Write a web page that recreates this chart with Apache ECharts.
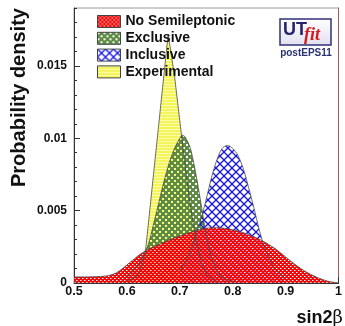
<!DOCTYPE html>
<html><head><meta charset="utf-8">
<script src="https://cdn.jsdelivr.net/npm/echarts@6/dist/echarts.min.js"></script>
<style>html,body{margin:0;padding:0;background:#fff}#c{width:345px;height:326px}</style>
</head><body><div id="c"></div>
<script>
// ---- data ----
const legendNames = ['No Semileptonic', 'Exclusive', 'Inclusive', 'Experimental'];
const xTicks = ['0.5', '0.6', '0.7', '0.8', '0.9', '1'];
const yTicks = ['0', '0.005', '0.01', '0.015'];

const redX = [0.50,0.52,0.54,0.56,0.57,0.58,0.59,0.60,0.61,0.62,0.63,0.64,0.65,0.66,0.67,0.68,0.69,0.70,0.72,0.74,0.76,0.78,0.80,0.82,0.84,0.86,0.88,0.90,0.92,0.94,0.96,0.98,1.00];
const redY = [0.00042,0.00042,0.00043,0.00048,0.00056,0.00070,0.00095,0.00125,0.00155,0.00185,0.00210,0.00232,0.00250,0.00266,0.00282,0.00297,0.00312,0.00325,0.00350,0.00372,0.00382,0.00380,0.00368,0.00348,0.00320,0.00284,0.00238,0.00180,0.00122,0.00074,0.00038,0.00012,0.00000];

const greenX = [0.60,0.62,0.63,0.64,0.65,0.66,0.67,0.68,0.69,0.70,0.705,0.71,0.72,0.73,0.74,0.75,0.76,0.77,0.78,0.80];
const greenY = [0.0004,0.0012,0.0018,0.0026,0.0040,0.0055,0.0070,0.0083,0.0093,0.0100,0.0102,0.0101,0.0093,0.0076,0.0055,0.0033,0.0018,0.0009,0.0004,0.0001];

const blueX = [0.70,0.72,0.73,0.74,0.75,0.76,0.77,0.78,0.79,0.80,0.81,0.82,0.83,0.84,0.85,0.86,0.88,0.90];
const blueY = [0.0008,0.0022,0.0033,0.0044,0.0058,0.0073,0.0085,0.0093,0.0095,0.0093,0.0088,0.0079,0.0066,0.0052,0.0037,0.0025,0.0010,0.0003];

const yellowX = [0.60,0.62,0.63,0.636,0.64,0.65,0.66,0.67,0.678,0.69,0.70,0.71,0.72,0.73,0.74,0.75,0.77];
const yellowY = [0.0001,0.0005,0.0014,0.0025,0.0039,0.0074,0.0109,0.0144,0.0172,0.0143,0.0112,0.0081,0.0053,0.0031,0.0015,0.0006,0.0000];

// ---- patterns ----
function tile(w, h, draw) {
  const c = document.createElement('canvas'); c.width = w; c.height = h;
  const g = c.getContext('2d'); draw(g);
  return { image: c, repeat: 'repeat' };
}
const redPat = tile(4, 4, g => { g.fillStyle = '#f20a0a'; g.fillRect(0,0,4,4); g.clearRect(0,0,1,1); g.clearRect(2,2,1,1);
  g.fillStyle = 'rgba(255,255,255,0.45)'; g.fillRect(0,0,1,1); g.fillRect(2,2,1,1);
  g.fillStyle = 'rgba(255,120,120,1)'; g.fillRect(1,0,1,1); g.fillRect(3,2,1,1); });
const greenPat = tile(6, 6, g => { g.fillStyle = '#5e8c44'; g.fillRect(0,0,6,6); g.clearRect(0,0,2,2); g.clearRect(3,3,2,2); });
const bluePat = tile(8, 8, g => { g.strokeStyle = '#1414e6'; g.lineWidth = 1.3;
  g.beginPath(); g.moveTo(-1,-1); g.lineTo(9,9); g.moveTo(9,-1); g.lineTo(-1,9); g.stroke(); });
const yellowPat = tile(2, 3, g => { g.fillStyle = '#f4f45c'; g.fillRect(0,0,2,3); g.fillStyle = '#fbfba8'; g.fillRect(0,0,2,1); });

const pats = { 'No Semileptonic': redPat, 'Exclusive': greenPat, 'Inclusive': bluePat, 'Experimental': yellowPat };
const seriesDefs = [
  { name: 'Experimental', x: yellowX, y: yellowY, smooth: false },
  { name: 'Exclusive', x: greenX, y: greenY, smooth: 0.3 },
  { name: 'Inclusive', x: blueX, y: blueY, smooth: 0.3 },
  { name: 'No Semileptonic', x: redX, y: redY, smooth: 0.3 }
];

const FONT = 'Liberation Sans, Arial, Helvetica, sans-serif';
function labelFrom(list) {
  return v => { const t = list.find(s => Math.abs(parseFloat(s) - v) < 1e-9); return t === undefined ? '' : t; };
}

const chart = echarts.init(document.getElementById('c'), null, { renderer: 'canvas' });
chart.setOption({
  animation: false,
  backgroundColor: '#fff',
  grid: { left: 74, right: 2, top: 8, bottom: 43, show: true, borderColor: '#9a9a9a', borderWidth: 1 },
  xAxis: {
    type: 'value', min: 0.5, max: 1.0, interval: 0.1,
    axisLine: { show: true, lineStyle: { color: '#333', width: 1 } },
    axisTick: { show: true, inside: true, length: 6, lineStyle: { color: '#333' } },
    splitLine: { show: false },
    axisLabel: { formatter: labelFrom(xTicks), margin: 2, fontFamily: FONT, fontWeight: 'bold', fontSize: 12.5, color: '#111', showMaxLabel: true }
  },
  yAxis: [
    {
      type: 'value', position: 'left', min: 0, max: 0.019, interval: 0.005,
      axisLine: { show: true, lineStyle: { color: '#333', width: 1 } },
      axisTick: { show: true, inside: true, length: 6, lineStyle: { color: '#333' } },
      splitLine: { show: false },
      axisLabel: { formatter: labelFrom(yTicks), margin: 7, fontFamily: FONT, fontWeight: 'bold', fontSize: 12, color: '#111', showMaxLabel: false }
    },
    {
      type: 'value', position: 'left', min: 0, max: 0.019, interval: 0.001,
      axisLine: { show: false },
      axisTick: { show: true, inside: true, length: 3, lineStyle: { color: '#333' } },
      splitLine: { show: false },
      axisLabel: { show: false }
    },
    {
      type: 'value', position: 'right', min: 0, max: 0.019,
      axisLine: { show: true, lineStyle: { color: '#a05a5a', width: 1 } },
      axisTick: { show: false }, splitLine: { show: false }, axisLabel: { show: false }
    }
  ],
  legend: {
    orient: 'vertical', left: 97, top: 14.5, padding: 0,
    itemWidth: 23, itemHeight: 12, itemGap: 2.8, icon: 'rect',
    selectedMode: false,
    textStyle: { fontFamily: FONT, fontWeight: 'bold', fontSize: 14, color: '#111', lineHeight: 14 },
    data: legendNames.map(n => ({ name: n, itemStyle: { color: pats[n], borderColor: '#444', borderWidth: 1 } }))
  },
  series: seriesDefs.map(d => ({
    name: d.name, type: 'line', xAxisIndex: 0, yAxisIndex: 0,
    data: d.x.map((x, i) => [x, d.y[i]]),
    smooth: d.smooth, symbol: 'none',
    lineStyle: { color: '#4a4a4a', width: 0.8 },
    itemStyle: { color: '#4a4a4a' },
    areaStyle: { color: pats[d.name], opacity: 1 },
    emphasis: { disabled: true }, silent: true
  })),
  graphic: [
    { type: 'text', x: 9, y: 187, rotation: Math.PI / 2,
      style: { text: 'Probability density', font: 'bold 20px ' + FONT, fill: '#111', align: 'left', verticalAlign: 'top' }, z: 10 },
    { type: 'text', right: 2, top: 309,
      style: { rich: { a: { font: 'bold 18px ' + FONT, fill: '#111' }, b: { font: '18px DejaVu Serif, serif', fill: '#111' } },
        text: '{a|sin2}{b|β}' } },
    { type: 'rect', shape: { x: 280, y: 19, width: 51, height: 26 },
      style: { fill: new echarts.graphic.LinearGradient(0, 0, 0, 1, [{ offset: 0, color: '#ffffff' }, { offset: 1, color: '#e2e0f0' }]), stroke: '#2f3278', lineWidth: 1.5 } },
    { type: 'text', x: 283, y: 21, style: { text: 'UT', font: 'bold 18px ' + FONT, fill: '#23266a' } },
    { type: 'text', x: 304, y: 26, style: { text: 'fit', font: 'italic bold 18px Liberation Serif, serif', fill: '#d21a1a' } },
    { type: 'text', x: 306, y: 53, style: { text: 'postEPS11', font: 'bold 10px ' + FONT, fill: '#2a3472', align: 'center', verticalAlign: 'middle' } }
  ]
});
</script></body></html>
